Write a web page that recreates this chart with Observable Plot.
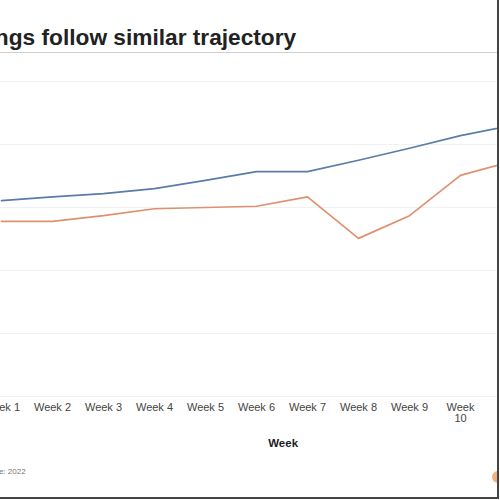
<!DOCTYPE html>
<html>
<head>
<meta charset="utf-8">
<script src="https://cdn.jsdelivr.net/npm/d3@7"></script>
<script src="https://cdn.jsdelivr.net/npm/@observablehq/plot@0.6"></script>
<style>
  html, body { margin: 0; padding: 0; background: #fff; }
  #frame { position: relative; width: 497px; height: 497px; overflow: hidden; background: #fff;
           border-right: 2px solid #444; border-bottom: 2px solid #444; }
  #title { position: absolute; left: -48px; top: 24px; font: bold 22.7px "Liberation Sans", Arial, sans-serif; color: #222; white-space: nowrap; }
  #rule { position: absolute; left: 0; top: 52px; width: 497px; height: 1px; background: #cfcfcf; }
  #chart { position: absolute; left: -100px; top: 55px; width: 659px; }
  #chart svg { max-width: none !important; }
  #source { position: absolute; left: -22px; top: 467px; font: 8px "Liberation Sans", Arial, sans-serif; color: #777; white-space: nowrap; }
  #logo { position: absolute; left: 492px; top: 471px; width: 12px; height: 12px; border-radius: 6px; background: #f0a060; opacity: 0.8; }
</style>
</head>
<body>
<div id="frame">
  <div id="title">Ratings follow similar trajectory</div>
  <div id="rule"></div>
  <div id="chart"></div>
  <div id="source">Source: 2022</div>
  <div id="logo"></div>
</div>
<script>
const weeks = ["Week 1","Week 2","Week 3","Week 4","Week 5","Week 6","Week 7","Week 8","Week 9","Week 10","Week 11"];
const seriesA = [31.1, 31.7, 32.2, 33.0, 34.3, 35.7, 35.7, 37.5, 39.4, 41.4, 43.0];
const seriesB = [27.8, 27.8, 28.7, 29.8, 30.0, 30.2, 31.7, 25.1, 28.7, 35.1, 37.3];
const yTicks = [0, 10, 20, 30, 40, 50];

const rowsA = weeks.map((w, i) => ({week: w, value: seriesA[i]}));
const rowsB = weeks.map((w, i) => ({week: w, value: seriesB[i]}));

const chart = Plot.plot({
  width: 659,
  height: 400,
  marginLeft: 72.25,
  marginRight: 20,
  marginTop: 26,
  marginBottom: 59,
  style: {fontFamily: "Liberation Sans, Arial, sans-serif", background: "#fff", maxWidth: "none"},
  x: {type: "point", domain: weeks, padding: 0.5, label: null},
  y: {domain: [0, 50], label: null},
  marks: [
    Plot.gridY(yTicks, {stroke: "#f1f1f1", strokeOpacity: 1}),
    Plot.axisX({tickSize: 0, tickPadding: 7, fontSize: 11, fill: "#444", lineWidth: 3.7,
      label: "Week", labelAnchor: "center", labelOffset: 50, labelArrow: "none"}),
    Plot.line(rowsA, {x: "week", y: "value", stroke: "#5a7ca8", strokeWidth: 1.7}),
    Plot.line(rowsB, {x: "week", y: "value", stroke: "#e0906e", strokeWidth: 1.7})
  ]
});
document.getElementById("chart").appendChild(chart);
chart.querySelectorAll("[aria-label='x-axis label'] text").forEach(t => {
  t.setAttribute("font-weight", "bold"); t.setAttribute("font-size", "11.5"); t.setAttribute("fill", "#222");
  t.setAttribute("dx", "27");
});
</script>
</body>
</html>
